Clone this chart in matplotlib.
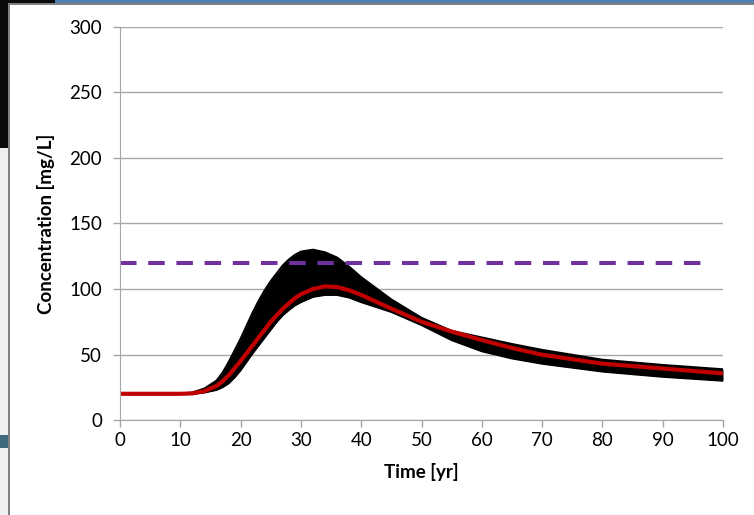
import matplotlib.pyplot as plt
from matplotlib.patches import Rectangle

# data
time = [0, 10, 12, 14, 16, 17, 18, 19, 20, 21, 22, 23, 24, 25, 26, 27, 28, 29,
        30, 32, 34, 36, 38, 40, 45, 50, 55, 60, 65, 70, 80, 90, 100]
mean_conc = [20, 20, 20.3, 22, 26, 29.5, 34, 39.5, 45, 51, 57, 63, 69, 75,
             80, 85, 89, 93, 96, 100, 102, 101.5, 99, 95.5, 85, 75, 67.5, 61,
             55, 49.8, 43, 39.3, 35.6]
upper_conc = [20, 20, 21, 24, 30, 36, 44, 53, 62, 72, 82, 91, 99, 106, 112,
              118, 122.5, 126, 128.5, 130, 128, 124, 117, 109, 92, 78, 68, 63,
              58, 53.5, 46, 42, 38.7]
lower_conc = [20, 20, 20, 21, 23, 25, 28, 32.5, 38, 44.5, 51, 57, 63, 69, 75,
              80, 84, 87.5, 90, 94, 95.5, 95.5, 93.5, 90, 82.5, 72.5, 61, 52.5,
              47, 43, 37, 33, 30]
limit_time = [0, 97.5]
limit_conc = [120, 120]
x_ticks = list(range(0, 101, 10))
y_ticks = list(range(0, 301, 50))

W, H = 754, 515


def frame_box(fig, x, y, w, h, color):
    # screenshot border pieces, given in pixels from top-left
    fig.add_artist(Rectangle((x / W, 1 - (y + h) / H), w / W, h / H,
                             transform=fig.transFigure, color=color, lw=0))


def main():
    plt.rcParams['font.family'] = ['Lato', 'DejaVu Sans']
    fig = plt.figure(figsize=(W / 100, H / 100), dpi=100)
    ax = fig.add_axes([120 / W, 1 - 420 / H, 603 / W, 393 / H])

    ax.fill_between(time, lower_conc, upper_conc, color='black', lw=0)
    ax.plot(time, upper_conc, color='black', lw=1.5)
    ax.plot(time, lower_conc, color='black', lw=1.5)
    ax.plot(time, mean_conc, color='#C00000', lw=3, solid_capstyle='butt')
    ax.plot(limit_time, limit_conc, color='#7030A0', lw=2.9,
            dashes=(4.1, 2.9))

    ax.set_xlim(0, 100)
    ax.set_ylim(0, 300)
    ax.set_xticks(x_ticks)
    ax.set_yticks(y_ticks)
    ax.grid(axis='y', color='#a6a6a6', lw=1)
    ax.set_axisbelow(True)
    for side in ['top', 'right']:
        ax.spines[side].set_visible(False)
    for side in ['left', 'bottom']:
        ax.spines[side].set_color('#a6a6a6')
    ax.tick_params(colors='#a6a6a6', labelcolor='black', labelsize=13.5,
                   length=5, width=1)
    ax.tick_params(axis='y', pad=8)
    ax.set_xlabel('Time [yr]', fontsize=13.5, fontweight='bold', labelpad=10)
    ax.set_ylabel('Concentration [mg/L]', fontsize=13.5, fontweight='bold',
                  labelpad=10)

    # bits of the screenshot around the chart
    frame_box(fig, 0, 0, 8, 148, '#0a0a0a')
    frame_box(fig, 0, 148, 8, 367, '#f0f0f0')
    frame_box(fig, 0, 435, 8, 13, '#3e6a80')
    frame_box(fig, 8, 0, 1.5, H, '#808080')
    frame_box(fig, 0, 0, 55, 3, '#0a0a0a')
    frame_box(fig, 55, 0, W - 55, 3, '#4f7fae')
    frame_box(fig, 8, 3, W - 8, 2, '#808080')

    fig.savefig('out.png', dpi=100)


if __name__ == "__main__":
    main()
